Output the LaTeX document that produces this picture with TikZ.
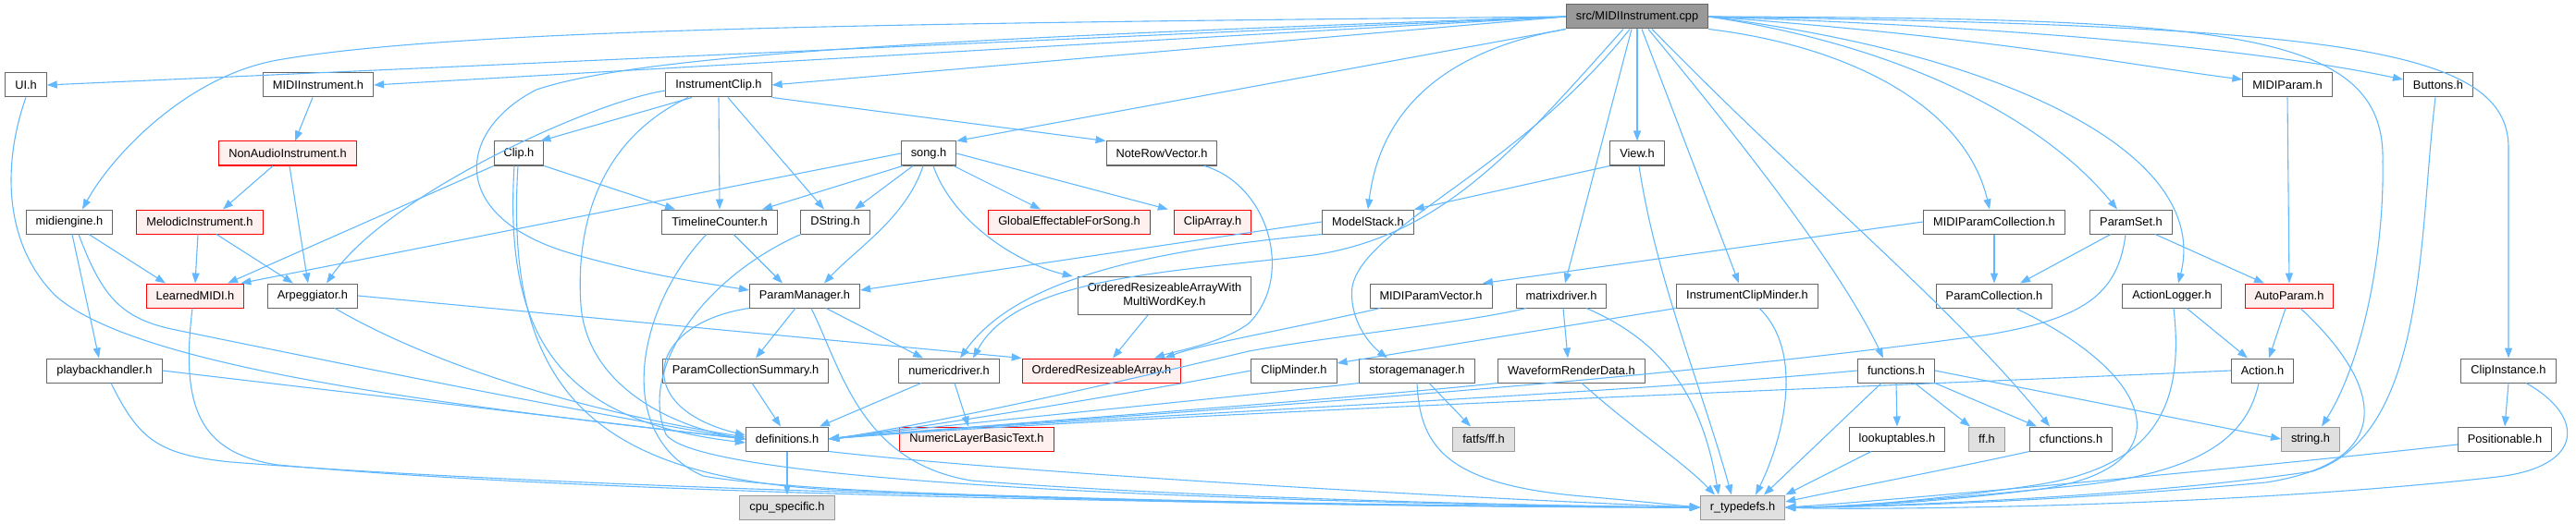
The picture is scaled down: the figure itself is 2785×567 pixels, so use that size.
\documentclass[tikz,border=0pt]{standalone}
\usepackage{fontspec}
\setmainfont{Liberation Sans}
\usetikzlibrary{arrows.meta}

\definecolor{edgeblue}{HTML}{63B8FF}
\definecolor{boxgray}{HTML}{666666}
\definecolor{sysgray}{HTML}{999999}
\definecolor{sysfill}{HTML}{E0E0E0}
\definecolor{rootfill}{HTML}{999999}
\definecolor{missingfill}{HTML}{FFF0F0}

\begin{document}
\begin{tikzpicture}[x=1pt, y=-1pt,
        file/.style={rectangle, draw=boxgray, fill=white, line width=1pt, minimum height=26pt, inner xsep=10.5pt, inner ysep=2pt, font=\fontsize{12.8}{15}\selectfont},
        missing/.style={file, draw=red, fill=missingfill},
        syshdr/.style={file, draw=sysgray, fill=sysfill},
        rootfile/.style={file, fill=rootfill},
        edge/.style={draw=edgeblue, line width=1.1pt, -{Triangle[length=11pt,width=8pt]}}
    ]
        \useasboundingbox (0,0) rectangle (2785,567);

        % Include graph nodes, row by row
        \node[rootfile] (src) at (1770,18) {src/MIDIInstrument.cpp};
        \node[file] (ui) at (28,92) {UI.h};
        \node[file] (midiinst) at (344,92) {MIDIInstrument.h};
        \node[file] (iclip) at (777,92) {InstrumentClip.h};
        \node[file] (midiparam) at (2473,92) {MIDIParam.h};
        \node[file] (buttons) at (2636,92) {Buttons.h};

        \node[missing] (nonaudio) at (311,166) {NonAudioInstrument.h};
        \node[file] (clip) at (561,166) {Clip.h};
        \node[file] (song) at (1004,166) {song.h};
        \node[file] (noterow) at (1256,166) {NoteRowVector.h};
        \node[file] (view) at (1770,166) {View.h};

        \node[file] (midiengine) at (75,240) {midiengine.h};
        \node[missing] (melodic) at (216,240) {MelodicInstrument.h};
        \node[file] (timeline) at (778,240) {TimelineCounter.h};
        \node[file] (dstring) at (903,240) {DString.h};
        \node[missing] (globaleff) at (1156,240) {GlobalEffectableForSong.h};
        \node[missing] (cliparray) at (1311,240) {ClipArray.h};
        \node[file] (modelstack) at (1479,240) {ModelStack.h};
        \node[file] (midipcoll) at (2156,240) {MIDIParamCollection.h};
        \node[file] (paramset) at (2304,240) {ParamSet.h};

        \node[missing] (learned) at (211,320) {LearnedMIDI.h};
        \node[file] (arp) at (338,320) {Arpeggiator.h};
        \node[file] (parammgr) at (870,320) {ParamManager.h};
        \node[file, align=center, minimum height=41pt] (oraw) at (1259,320) {OrderedResizeableArrayWith\\MultiWordKey.h};
        \node[file] (midipvec) at (1547,320) {MIDIParamVector.h};
        \node[file] (matrix) at (1688,320) {matrixdriver.h};
        \node[file] (icminder) at (1889,320) {InstrumentClipMinder.h};
        \node[file] (pcoll) at (2156,320) {ParamCollection.h};
        \node[file] (actlog) at (2348,320) {ActionLogger.h};
        \node[missing] (autoparam) at (2475,320) {AutoParam.h};

        \node[file] (playback) at (113,401) {playbackhandler.h};
        \node[file] (pcsummary) at (806,401) {ParamCollectionSummary.h};
        \node[file] (numdrv) at (1026,401) {numericdriver.h};
        \node[missing] (ora) at (1191,401) {OrderedResizeableArray.h};
        \node[file] (clipminder) at (1399,401) {ClipMinder.h};
        \node[file] (storage) at (1532,401) {storagemanager.h};
        \node[file] (waveform) at (1699,401) {WaveformRenderData.h};
        \node[file] (functions) at (2050,401) {functions.h};
        \node[file] (action) at (2446,401) {Action.h};
        \node[file] (clipinst) at (2712,401) {ClipInstance.h};

        \node[file] (definitions) at (851,475) {definitions.h};
        \node[missing] (nlbt) at (1056,475) {NumericLayerBasicText.h};
        \node[syshdr] (fatfs) at (1604,475) {fatfs/ff.h};
        \node[file] (lookup) at (2051,475) {lookuptables.h};
        \node[syshdr] (ff) at (2148,475) {ff.h};
        \node[file] (cfunc) at (2239,475) {cfunctions.h};
        \node[syshdr] (string) at (2498,475) {string.h};
        \node[file] (positionable) at (2708,475) {Positionable.h};

        \node[syshdr] (cpu) at (851,549) {cpu\_specific.h};
        \node[syshdr] (rtypedefs) at (1884,549) {r\_typedefs.h};

        % Edges out of the source file
        \draw[edge] (src.west) -- (ui.east);
        \draw[edge] (src.west) -- (midiinst.east);
        \draw[edge] (src.west) -- (iclip.east);
        \draw[edge] (src.west) .. controls (1000,25) and (500,30) .. (300,65) .. controls (200,83) and (120,170) .. ([xshift=14]midiengine.north);
        \draw[edge] (src.west) .. controls (1000,42) and (690,60) .. (580,97) .. controls (495,140) and (480,235) .. (620,275) .. controls (700,298) and (760,306) .. ([yshift=6pt]parammgr.west);
        \draw[edge] (src.south west) -- (song.north east);
        \draw[edge] (src.south west) .. controls (1560,55) and (1492,120) .. (modelstack.north);
        \draw[edge] (src.south) -- (view.north);
        \draw[edge] ([xshift=-15]src.south) .. controls (1640,160) and (1560,255) .. (1420,276) .. controls (1260,295) and (1100,300) .. ([xshift=26]numdrv.north);
        \draw[edge] ([xshift=-8]src.south) .. controls (1640,185) and (1475,245) .. (1462,310) .. controls (1458,345) and (1480,372) .. ([xshift=-32]storage.north);
        \draw[edge] ([xshift=-6]src.south) -- ([xshift=4]matrix.north);
        \draw[edge] ([xshift=5]src.south) -- ([xshift=-9]icminder.north);
        \draw[edge] ([xshift=12]src.south) .. controls (1880,150) and (1990,290) .. ([xshift=-14]functions.north);
        \draw[edge] ([xshift=16]src.south) .. controls (1950,200) and (2110,330) .. ([xshift=-23]cfunc.north);
        \draw[edge] (src.south east) .. controls (2000,50) and (2125,115) .. ([xshift=-5]midipcoll.north);
        \draw[edge] (src.east) .. controls (2060,50) and (2210,130) .. ([xshift=-15]paramset.north);
        \draw[edge] (src.east) .. controls (2180,60) and (2390,170) .. ([xshift=7]actlog.north);
        \draw[edge] (src.east) .. controls (2150,40) and (2300,70) .. ([yshift=6pt]midiparam.west);
        \draw[edge] (src.east) .. controls (2200,30) and (2450,55) .. ([yshift=6pt]buttons.west);
        \draw[edge] (src.east) .. controls (2400,20) and (2580,30) .. (2576,175) .. controls (2578,270) and (2555,390) .. ([xshift=12]string.north);
        \draw[edge] (src.east) .. controls (2520,28) and (2712,50) .. (2712,160) -- (clipinst.north);

        % Left part
        \draw[edge] ([xshift=-29]iclip.south) -- ([xshift=-4]clip.north east);
        \draw[edge] (iclip.south) -- (timeline.north);
        \draw[edge] ([xshift=10]iclip.south) -- ([xshift=-12]dstring.north);
        \draw[edge] (iclip.south east) -- (noterow.north west);
        \draw[edge] ([yshift=-6pt]iclip.west) .. controls (640,110) and (420,210) .. ([xshift=15]arp.north);
        \draw[edge] ([xshift=-33]iclip.south) .. controls (650,150) and (622,240) .. (628,330) .. controls (635,420) and (730,462) .. (definitions.west);
        \draw[edge] ([xshift=-28]song.south) -- ([xshift=46]timeline.north);
        \draw[edge] ([xshift=-17]song.south) -- ([xshift=21]dstring.north);
        \draw[edge] ([xshift=27]song.south) -- ([xshift=-31]globaleff.north);
        \draw[edge] (song.east) -- ([xshift=-6]cliparray.north west);
        \draw[edge] (song.west) -- ([xshift=-4]learned.north east);
        \draw[edge] ([xshift=-6]song.south) .. controls (980,235) and (925,270) .. ([xshift=21]parammgr.north);
        \draw[edge] ([xshift=5]song.south) .. controls (1030,240) and (1100,285) .. ([xshift=-5]oraw.north west);
        \draw[edge] (clip.south west) -- ([xshift=35]learned.north);
        \draw[edge] (clip.south east) -- ([xshift=-48]timeline.north);
        \draw[edge] ([xshift=-5]clip.south) .. controls (545,360) and (600,455) .. ([yshift=-4pt]definitions.west);
        \draw[edge] ([xshift=-1]clip.south) .. controls (545,420) and (640,515) .. (900,530) .. controls (1300,545) and (1650,549) .. (rtypedefs.west);
        \draw[edge] (ui.south) .. controls (5,170) and (0,260) .. (60,320) .. controls (150,400) and (500,440) .. (definitions.west);
        \draw[edge] ([xshift=21]midiengine.south) -- ([xshift=-32]learned.north);
        \draw[edge] ([xshift=3]midiengine.south) -- ([xshift=-6]playback.north);
        \draw[edge] ([xshift=10]midiengine.south) .. controls (110,320) and (130,345) .. (190,357) .. controls (400,400) and (650,450) .. (definitions.west);
        \draw[edge] ([xshift=-6]midiinst.south) -- ([xshift=8]nonaudio.north);
        \draw[edge] ([xshift=-16]nonaudio.south) -- ([xshift=25]melodic.north);
        \draw[edge] ([xshift=2]nonaudio.south) -- ([xshift=-5]arp.north);
        \draw[edge] ([xshift=-2]melodic.south) -- (learned.north);
        \draw[edge] ([xshift=18]melodic.south) -- ([xshift=-21]arp.north);
        \draw[edge] ([xshift=-3]learned.south) .. controls (195,440) and (215,490) .. (300,503) .. controls (700,540) and (1500,547) .. (rtypedefs.west);
        \draw[edge] ([xshift=24]arp.south) .. controls (450,385) and (600,440) .. ([yshift=2pt]definitions.west);
        \draw[edge] (arp.east) -- (ora.north west);
        \draw[edge] (playback.east) -- (definitions.west);
        \draw[edge] ([xshift=7]playback.south) .. controls (150,475) and (170,492) .. (250,500) .. controls (700,535) and (1500,548) .. (rtypedefs.west);

        % Middle part
        \draw[edge] ([xshift=15]timeline.south) -- ([xshift=-24]parammgr.north);
        \draw[edge] ([xshift=-14]timeline.south) .. controls (690,330) and (660,470) .. (760,515) .. controls (900,540) and (1500,549) .. (rtypedefs.west);
        \draw[edge] ([xshift=-37]dstring.south) .. controls (760,300) and (690,400) .. (720,470) .. controls (760,530) and (1500,546) .. (rtypedefs.west);
        \draw[edge] ([xshift=-10]parammgr.south) -- ([xshift=11]pcsummary.north);
        \draw[edge] ([xshift=23]parammgr.south) -- ([xshift=-28]numdrv.north);
        \draw[edge] (parammgr.south west) .. controls (700,350) and (680,440) .. ([yshift=4pt]definitions.west);
        \draw[edge] ([xshift=7]parammgr.south) .. controls (910,400) and (930,500) .. (1050,520) .. controls (1300,540) and (1700,548) .. (rtypedefs.west);
        \draw[edge] ([xshift=7]pcsummary.south) -- ([xshift=-7]definitions.north);
        \draw[edge] ([xshift=-30]numdrv.south) -- ([xshift=35]definitions.north);
        \draw[edge] ([xshift=6]numdrv.south) -- ([xshift=-9]nlbt.north);
        \draw[edge] ([xshift=-18]oraw.south) -- ([xshift=12]ora.north);
        \draw[edge] ([xshift=46]noterow.south) .. controls (1372,200) and (1400,300) .. (1350,350) .. controls (1320,372) and (1270,380) .. ([xshift=57]ora.north);
        \draw[edge] ([xshift=-55]midipvec.south) .. controls (1400,355) and (1300,372) .. ([xshift=68]ora.north);
        \draw[edge] (modelstack.west) -- ([yshift=6pt]parammgr.east);
        \draw[edge] (modelstack.south west) .. controls (1250,270) and (1100,300) .. ([xshift=12]numdrv.north);
        \draw[edge] (view.south west) -- (modelstack.north east);
        \draw[edge] ([xshift=2]view.south) .. controls (1790,300) and (1840,420) .. ([xshift=-12]rtypedefs.north);
        \draw[edge] ([xshift=2]matrix.south) -- ([xshift=-4]waveform.north);
        \draw[edge] ([xshift=27]matrix.south) .. controls (1800,370) and (1840,430) .. ([xshift=-26]rtypedefs.north);
        \draw[edge] ([xshift=-38]matrix.south) .. controls (1580,350) and (1450,362) .. (1350,380) .. controls (1100,440) and (950,468) .. (definitions.east);
        \draw[edge] (icminder.south west) -- ([yshift=8pt]clipminder.east);
        \draw[edge] ([xshift=13]icminder.south) .. controls (1950,380) and (1930,470) .. ([xshift=14]rtypedefs.north);
        \draw[edge] (clipminder.west) .. controls (1200,430) and (1000,462) .. (definitions.east);
        \draw[edge] ([xshift=13]storage.south) -- ([xshift=-14]fatfs.north);
        \draw[edge] (storage.south) .. controls (1535,480) and (1560,522) .. (1700,536) .. controls (1780,543) and (1815,547) .. (rtypedefs.west);
        \draw[edge] (storage.south west) .. controls (1350,428) and (1000,462) .. (definitions.east);
        \draw[edge] (waveform.south west) .. controls (1480,430) and (1000,465) .. (definitions.east);
        \draw[edge] ([xshift=11]waveform.south) .. controls (1760,460) and (1820,500) .. ([xshift=-30]rtypedefs.north);
        \draw[edge] (definitions.south) -- (cpu.north);
        \draw[edge] (definitions.south east) .. controls (1100,512) and (1600,540) .. (rtypedefs.west);

        % Right part
        \draw[edge] (functions.west) .. controls (1700,430) and (1100,455) .. (definitions.east);
        \draw[edge] (functions.south) -- (lookup.north);
        \draw[edge] ([xshift=20]functions.south) -- ([xshift=-18]ff.north);
        \draw[edge] (functions.south east) -- ([xshift=-37]cfunc.north);
        \draw[edge] (functions.east) -- (string.west);
        \draw[edge] ([xshift=-16]functions.south) -- ([xshift=23]rtypedefs.north);
        \draw[edge] ([xshift=-28]lookup.south) -- (rtypedefs.north east);
        \draw[edge] (cfunc.south west) .. controls (2120,505) and (2000,528) .. ([yshift=6pt]rtypedefs.east);
        \draw[edge] (midipcoll.south) -- (pcoll.north);
        \draw[edge] (midipcoll.west) -- ([xshift=56]midipvec.north);
        \draw[edge] ([xshift=-22]paramset.south) -- ([xshift=28]pcoll.north);
        \draw[edge] ([xshift=26]paramset.south) -- ([xshift=-27]autoparam.north);
        \draw[edge] ([xshift=-6]paramset.south) .. controls (2290,320) and (2250,345) .. (2150,362) .. controls (1700,425) and (1100,455) .. (definitions.east);
        \draw[edge] ([xshift=23]pcoll.south) .. controls (2340,410) and (2360,510) .. (2200,530) .. controls (2080,545) and (1980,549) .. (rtypedefs.east);
        \draw[edge] ([xshift=16]actlog.south) -- ([xshift=-16]action.north);
        \draw[edge] ([xshift=2]actlog.south) .. controls (2362,440) and (2330,505) .. (2200,525) .. controls (2100,540) and (2000,549) .. (rtypedefs.east);
        \draw[edge] ([xshift=-4]autoparam.south) -- ([xshift=7]action.north);
        \draw[edge] ([xshift=12]autoparam.south) .. controls (2580,420) and (2590,500) .. (2450,522) .. controls (2200,545) and (2000,549) .. (rtypedefs.east);
        \draw[edge] (midiparam.south) -- (autoparam.north);
        \draw[edge] ([xshift=-3]buttons.south) .. controls (2615,250) and (2625,470) .. (2500,510) .. controls (2300,540) and (2000,549) .. (rtypedefs.east);
        \draw[edge] (action.west) .. controls (2100,415) and (1200,450) .. (definitions.east);
        \draw[edge] ([xshift=-4]action.south) .. controls (2430,470) and (2385,510) .. (2250,525) .. controls (2100,540) and (2000,549) .. (rtypedefs.east);
        \draw[edge] (clipinst.south) -- (positionable.north);
        \draw[edge] ([xshift=19]clipinst.south) .. controls (2795,450) and (2795,505) .. (2700,516) .. controls (2400,550) and (2000,552) .. (rtypedefs.east);
        \draw[edge] ([yshift=-6pt]positionable.west) .. controls (2400,510) and (2000,545) .. (rtypedefs.east);
\end{tikzpicture}
\end{document}
